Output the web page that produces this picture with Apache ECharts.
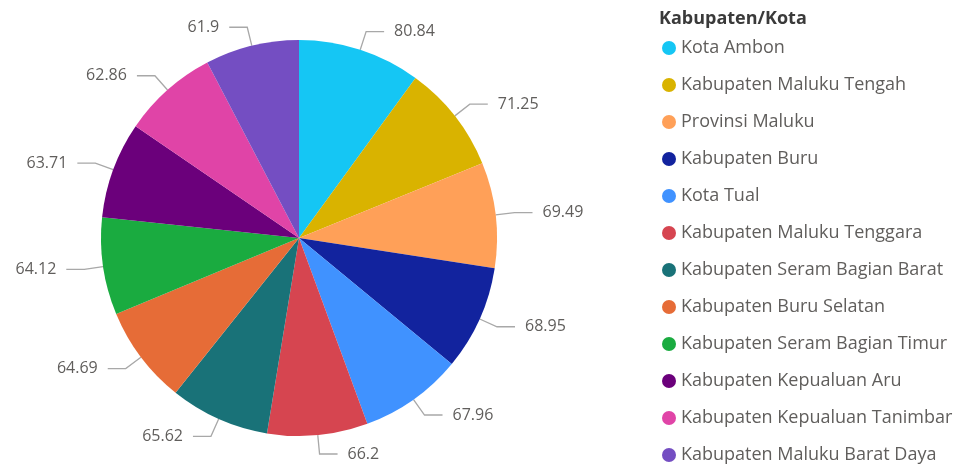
<!DOCTYPE html>
<html>
<head>
<meta charset="utf-8">
<script src="https://cdn.jsdelivr.net/npm/echarts@6/dist/echarts.min.js"></script>
<style>html,body{margin:0;padding:0;background:#fff;}#c{width:961px;height:468px;}</style>
</head>
<body>
<div id="c"></div>
<script>
const categories = ["Kota Ambon","Kabupaten Maluku Tengah","Provinsi Maluku","Kabupaten Buru","Kota Tual","Kabupaten Maluku Tenggara","Kabupaten Seram Bagian Barat","Kabupaten Buru Selatan","Kabupaten Seram Bagian Timur","Kabupaten Kepualuan Aru","Kabupaten Kepualuan Tanimbar","Kabupaten Maluku Barat Daya"];
const values = [80.84,71.25,69.49,68.95,67.96,66.2,65.62,64.69,64.12,63.71,62.86,61.9];
const colors = ["#15C6F4","#D9B300","#FFA058","#12239E","#4092FF","#D64550","#197278","#E66C37","#1AAB40","#6B007B","#E044A7","#744EC2"];
const legendTitle = "Kabupaten/Kota";

const chart = echarts.init(document.getElementById('c'));
chart.setOption({
  animation: false,
  title: {
    text: legendTitle, left: 654, top: 3,
    textStyle: {fontFamily: "Open Sans", fontSize: 18, fontWeight: "bold", color: "#3a3a3a", lineHeight: 22}
  },
  legend: {
    orient: "vertical", left: 657, top: 34, height: 440,
    icon: "circle", itemWidth: 14, itemHeight: 14, itemGap: 19,
    textStyle: {fontFamily: "Open Sans", fontSize: 18, color: "#605E5C", lineHeight: 18},
    data: categories
  },
  series: [{
    type: "pie",
    center: [299, 238],
    radius: 198,
    startAngle: 90,
    clockwise: true,
    avoidLabelOverlap: false,
    data: categories.map((c, i) => ({name: c, value: values[i], itemStyle: {color: colors[i]}})),
    label: {
      show: true, position: "outside", formatter: p => p.value,
      fontFamily: "Open Sans", fontSize: 16, color: "#605E5C", distanceToLabelLine: 10
    },
    labelLine: {show: true, length: 19, length2: 18, lineStyle: {color: "#A8A8A8", width: 1.3}},
    emphasis: {disabled: true}
  }]
});
</script>
</body>
</html>
